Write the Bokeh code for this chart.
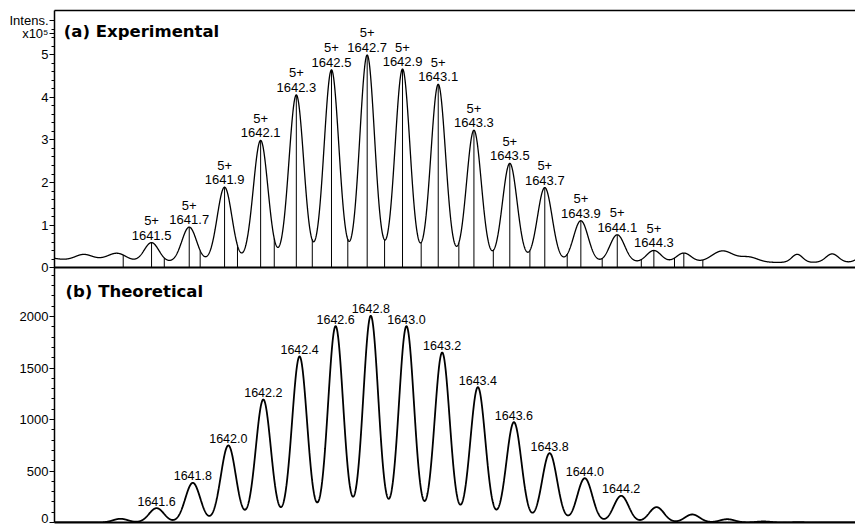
import numpy as np
from bokeh.plotting import figure
from bokeh.models import Label, FixedTicker, LinearAxis, Range1d, Span
from bokeh.embed import file_html
from bokeh.resources import INLINE
from bokeh.core.properties import value

# ---------------- data ----------------
# (a) Experimental: isotope peaks of the 5+ ion (apex intensity, x10^5)
exp_mz = [1641.500, 1641.710, 1641.907, 1642.108, 1642.307, 1642.503, 1642.702, 1642.899,
          1643.098, 1643.297, 1643.497, 1643.692, 1643.893, 1644.096, 1644.300]
exp_int = [0.58, 0.95, 1.89, 2.99, 4.06, 4.65, 5.00, 4.67, 4.31, 3.23, 2.45, 1.88, 1.10, 0.77, 0.40]
exp_labels = ["1641.5", "1641.7", "1641.9", "1642.1", "1642.3", "1642.5", "1642.7", "1642.9",
              "1643.1", "1643.3", "1643.5", "1643.7", "1643.9", "1644.1", "1644.3"]
exp_charge = "5+"
# unlabeled small peak with a centroid stick
extra_mz = [1644.467]
extra_int = [0.34]
# integration boundary sticks
bound_mz = [1641.342, 1641.571, 1641.771, 1641.979, 1642.184, 1642.396, 1642.594, 1642.799,
            1643.003, 1643.213, 1643.405, 1643.609, 1643.817, 1644.012, 1644.230, 1644.415, 1644.573]
exp_baseline = 0.12
exp_width = 0.041
# baseline ripples (centre, amplitude above baseline, width)
noise_mz = [1640.900, 1641.121, 1641.150, 1641.310, 1644.683, 1644.830, 1645.099, 1645.294, 1645.470]
noise_int = [0.10, 0.11, 0.08, 0.17, 0.27, 0.12, 0.19, 0.20, 0.15]
noise_w = [0.060, 0.045, 0.150, 0.050, 0.060, 0.050, 0.030, 0.035, 0.035]

# (b) Theoretical isotope pattern
theo_mz = [1641.327, 1641.528, 1641.730, 1641.928, 1642.123, 1642.325, 1642.526, 1642.722,
           1642.921, 1643.120, 1643.319, 1643.520, 1643.719, 1643.915, 1644.118, 1644.315,
           1644.514, 1644.709, 1644.911, 1645.106]
theo_int = [36, 139, 385, 748, 1194, 1612, 1906, 2007, 1906, 1650, 1314, 974, 673, 430, 259,
            149, 78, 32, 10, 3]
theo_labels = ["", "1641.6", "1641.8", "1642.0", "1642.2", "1642.4", "1642.6", "1642.8",
               "1643.0", "1643.2", "1643.4", "1643.6", "1643.8", "1644.0", "1644.2",
               "", "", "", "", ""]
theo_width = 0.0418

# axis ticks
exp_ticks = [0, 1, 2, 3, 4, 5]
exp_tick_labels = ["0", "1", "2", "3", "4", "5"]
exp_unit_ticks = [5.8, 5.5]
exp_unit_labels = ["Intens.", "x10\u2075"]
theo_ticks = [0, 500, 1000, 1500, 2000]

# ---------------- layout constants ----------------
X0, X1 = 1640.959, 1645.424
FRAME_W, FRAME_H = 801, 512
LEFT, TOP, BOTTOM = 54, 10, 3
EXP_ZERO_PX = 267          # canvas y of the (a) zero line
EXP_SCALE = 42.5           # px per 1e5
THEO_SCALE = 0.103         # px per count
FONT = "Liberation Sans"
TFONT = "DejaVu Sans"

frame_bottom = TOP + FRAME_H
theo_end = FRAME_H / THEO_SCALE
exp_start = -(frame_bottom - EXP_ZERO_PX) / EXP_SCALE
exp_end = (EXP_ZERO_PX - TOP) / EXP_SCALE


def gauss(x, c, a, w):
    return a * np.exp(-0.5 * ((x - c) / w) ** 2)


def exp_profile(x):
    x = np.asarray(x, dtype=float)
    y = np.full_like(x, exp_baseline)
    for c, a in zip(exp_mz + extra_mz, exp_int + extra_int):
        y = y + gauss(x, c, a - exp_baseline, exp_width)
    for c, a, w in zip(noise_mz, noise_int, noise_w):
        y = y + gauss(x, c, a, w)
    return y


def theo_profile(x):
    x = np.asarray(x, dtype=float)
    y = np.zeros_like(x)
    for c, a in zip(theo_mz, theo_int):
        y = y + gauss(x, c, a, theo_width)
    return y


def exp_to_theo(v):
    # position of an (a)-panel value on the shared left axis (in theo units)
    return int(round((frame_bottom - EXP_ZERO_PX + v * EXP_SCALE) / THEO_SCALE))


p = figure(frame_width=FRAME_W, frame_height=FRAME_H, x_range=(X0, X1), y_range=(0, theo_end),
           output_backend="svg", toolbar_location=None, x_axis_location=None,
           y_axis_location="left", min_border_left=LEFT, min_border_right=0,
           min_border_top=TOP, min_border_bottom=BOTTOM)
p.extra_y_ranges = {"exp": Range1d(exp_start, exp_end)}
p.grid.grid_line_color = None
p.outline_line_color = None
p.background_fill_color = "white"
p.border_fill_color = "white"

# shared left axis carrying both panels' ticks
major = list(theo_ticks)
overrides = {}
for v, lab in zip(exp_ticks + exp_unit_ticks, exp_tick_labels + exp_unit_labels):
    u = exp_to_theo(v)
    major.append(u)
    overrides[u] = lab
minor = [m for m in range(100, 2500, 100) if m % 500]
minor += [exp_to_theo(round(0.2 * i, 1)) for i in range(1, 29) if i % 5]

ax = p.yaxis[0]
ax.ticker = FixedTicker(ticks=major, minor_ticks=minor)
ax.major_label_overrides = overrides
ax.axis_line_width = 1.5
ax.axis_line_color = "black"
ax.major_tick_out = 5
ax.major_tick_in = 0
ax.minor_tick_out = 3
ax.minor_tick_in = 0
ax.major_tick_line_width = 1.2
ax.minor_tick_line_width = 1
ax.major_tick_line_color = "black"
ax.minor_tick_line_color = "black"
ax.major_label_text_font = FONT
ax.major_label_text_font_size = "13px"
ax.major_label_text_color = "black"
ax.major_label_standoff = 1


def bare_axis(width):
    return LinearAxis(ticker=FixedTicker(ticks=[]), axis_line_width=width, axis_line_color="black",
                      major_tick_out=0, major_tick_in=0, minor_tick_out=0, minor_tick_in=0,
                      major_label_standoff=0, major_label_text_font_size="0px")


p.add_layout(bare_axis(1.5), "above")
p.add_layout(bare_axis(2), "below")
p.add_layout(Span(location=0, dimension="width", y_range_name="exp", line_color="black",
                  line_width=2))

xs = np.linspace(X0, X1, 4000)

# ---------------- (a) experimental ----------------
p.line(xs, exp_profile(xs), line_color="black", line_width=1.3, y_range_name="exp")
peak_x = exp_mz + extra_mz
p.segment(x0=peak_x, y0=[0] * len(peak_x), x1=peak_x, y1=list(exp_profile(peak_x)),
          line_color="black", line_width=1, y_range_name="exp")
p.segment(x0=bound_mz, y0=[0] * len(bound_mz), x1=bound_mz, y1=list(exp_profile(bound_mz)),
          line_color="black", line_width=1, y_range_name="exp")
apex = list(exp_profile(exp_mz))
p.text(x=exp_mz, y=apex, text=exp_labels, text_align="center", text_baseline="middle",
       y_offset=-7.5, text_font=value(FONT), text_font_size="13px", text_color="black",
       y_range_name="exp")
p.text(x=exp_mz, y=apex, text=[exp_charge] * len(exp_mz), text_align="center",
       text_baseline="middle", y_offset=-22, text_font=value(FONT),
       text_font_size="13px", text_color="black", y_range_name="exp")

# ---------------- (b) theoretical ----------------
p.line(xs, theo_profile(xs), line_color="black", line_width=1.8)
lab_idx = [i for i, t in enumerate(theo_labels) if t]
lx = [theo_mz[i] for i in lab_idx]
p.text(x=lx, y=list(theo_profile(lx)), text=[theo_labels[i] for i in lab_idx],
       text_align="center", text_baseline="middle", y_offset=-7, text_font=value(FONT),
       text_font_size="12.5px", text_color="black")


# ---------------- panel titles ----------------
def dx(px):
    return X0 + (px - LEFT) * (X1 - X0) / FRAME_W


def exp_y(py):
    return (EXP_ZERO_PX - py) / EXP_SCALE


def theo_y(py):
    return (frame_bottom - py) / THEO_SCALE


p.add_layout(Label(x=dx(63.3), y=exp_y(31.2), y_range_name="exp", text="(a) Experimental",
                   text_font=TFONT, text_font_style="bold", text_font_size="16.5px",
                   text_color="black", text_align="left", text_baseline="middle"))
p.add_layout(Label(x=dx(65), y=theo_y(290.8), text="(b) Theoretical",
                   text_font=TFONT, text_font_style="bold", text_font_size="16.5px",
                   text_color="black", text_align="left", text_baseline="middle"))

open("out.html", "w").write(file_html(p, INLINE))
